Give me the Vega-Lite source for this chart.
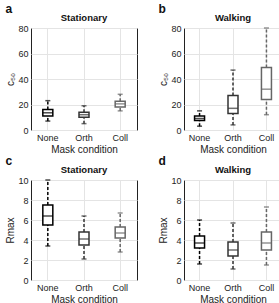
{
  "$schema": "https://vega.github.io/schema/vega-lite/v6.json",
  "padding": {"left": 5, "top": 3, "right": 2, "bottom": 2},
  "data": {"values": [
    {"panel": "a", "cond": "None", "min": 7, "q1": 11, "med": 13.5, "q3": 16, "max": 23},
    {"panel": "a", "cond": "Orth", "min": 5, "q1": 10, "med": 12, "q3": 14, "max": 19},
    {"panel": "a", "cond": "Coll", "min": 15, "q1": 18, "med": 20.5, "q3": 22.5, "max": 28},
    {"panel": "b", "cond": "None", "min": 3, "q1": 7.5, "med": 9, "q3": 11, "max": 15},
    {"panel": "b", "cond": "Orth", "min": 4, "q1": 13, "med": 17, "q3": 27, "max": 47},
    {"panel": "b", "cond": "Coll", "min": 12, "q1": 24, "med": 32, "q3": 49, "max": 80},
    {"panel": "c", "cond": "None", "min": 3.4, "q1": 5.5, "med": 6.4, "q3": 7.5, "max": 10},
    {"panel": "c", "cond": "Orth", "min": 2.1, "q1": 3.5, "med": 4.1, "q3": 4.8, "max": 6.4},
    {"panel": "c", "cond": "Coll", "min": 2.8, "q1": 4.2, "med": 4.7, "q3": 5.3, "max": 6.7},
    {"panel": "d", "cond": "None", "min": 1.6, "q1": 3.2, "med": 3.7, "q3": 4.4, "max": 6},
    {"panel": "d", "cond": "Orth", "min": 1.1, "q1": 2.4, "med": 3.0, "q3": 3.8, "max": 5.7},
    {"panel": "d", "cond": "Coll", "min": 1.5, "q1": 3.0, "med": 3.7, "q3": 4.8, "max": 7.3}
  ]},
  "config": {
    "font": "Liberation Sans",
    "view": {"stroke": "#222", "strokeWidth": 1},
    "concat": {"spacing": 0},
    "axis": {"labelFontSize": 9, "labelColor": "#222", "titleFontSize": 10, "titleFontWeight": "normal", "titleColor": "#222", "domain": false, "ticks": false, "labelPadding": 3, "titlePadding": 2, "gridColor": "#e4e4e4", "grid": true, "labelOverlap": false},
    "axisY": {"labelOverlap": false},
    "axisQuantitative": {"labelOverlap": false},
    "title": {"fontSize": 9.5, "fontWeight": "bold", "color": "#111", "offset": 2}
  },
  "vconcat": [
    {"spacing": 20, "hconcat": [
      {"title": {"text": "a", "anchor": "start", "frame": "bounds", "fontSize": 12, "offset": -4},
       "vconcat": [{
        "title": "Stationary", "width": 106, "height": 102,
        "transform": [{"filter": "datum.panel === 'a'"}],
        "encoding": {
          "x": {"field": "cond", "type": "nominal", "sort": ["None", "Orth", "Coll"], "scale": {"type": "band", "paddingInner": 0.67, "paddingOuter": 0.3}, "axis": {"title": "Mask condition", "bandPosition": 0.5, "labelAngle": 0}},
          "color": {"field": "cond", "type": "nominal", "scale": {"domain": ["None", "Orth", "Coll"], "range": ["#000000", "#333333", "#666666"]}, "legend": null}
        },
        "layer": [
          {"mark": {"type": "rule", "strokeDash": [3, 2], "strokeWidth": 1.5}, "encoding": {"y": {"field": "min", "type": "quantitative", "scale": {"domain": [0, 80]}, "axis": {"title": "c₅₀", "values": [0, 20, 40, 60, 80], "labelOverlap": false}}, "y2": {"field": "q1"}}},
          {"mark": {"type": "rule", "strokeDash": [3, 2], "strokeWidth": 1.5}, "encoding": {"y": {"field": "q3", "type": "quantitative", "axis": {"title": "c₅₀", "values": [0, 20, 40, 60, 80], "labelOverlap": false}}, "y2": {"field": "max"}}},
          {"mark": {"type": "tick", "size": 5, "thickness": 1.5}, "encoding": {"y": {"field": "min", "type": "quantitative", "axis": {"title": "c₅₀", "values": [0, 20, 40, 60, 80], "labelOverlap": false}}}},
          {"mark": {"type": "tick", "size": 5, "thickness": 1.5}, "encoding": {"y": {"field": "max", "type": "quantitative", "axis": {"title": "c₅₀", "values": [0, 20, 40, 60, 80], "labelOverlap": false}}}},
          {"mark": {"type": "bar", "width": 10, "fill": "white", "strokeWidth": 1.5}, "encoding": {"y": {"field": "q1", "type": "quantitative", "axis": {"title": "c₅₀", "values": [0, 20, 40, 60, 80], "labelOverlap": false}}, "y2": {"field": "q3"}, "stroke": {"field": "cond", "type": "nominal", "scale": {"domain": ["None", "Orth", "Coll"], "range": ["#000000", "#333333", "#666666"]}, "legend": null}}},
          {"mark": {"type": "tick", "size": 10, "thickness": 1.5}, "encoding": {"y": {"field": "med", "type": "quantitative", "axis": {"title": "c₅₀", "values": [0, 20, 40, 60, 80], "labelOverlap": false}}}}
        ]
      }]},
      {"title": {"text": "b", "anchor": "start", "frame": "bounds", "fontSize": 12, "offset": -4},
       "vconcat": [{
        "title": "Walking", "width": 98, "height": 102,
        "transform": [{"filter": "datum.panel === 'b'"}],
        "encoding": {
          "x": {"field": "cond", "type": "nominal", "sort": ["None", "Orth", "Coll"], "scale": {"type": "band", "paddingInner": 0.67, "paddingOuter": 0.3}, "axis": {"title": "Mask condition", "bandPosition": 0.5, "labelAngle": 0}},
          "color": {"field": "cond", "type": "nominal", "scale": {"domain": ["None", "Orth", "Coll"], "range": ["#000000", "#333333", "#666666"]}, "legend": null}
        },
        "layer": [
          {"mark": {"type": "rule", "strokeDash": [3, 2], "strokeWidth": 1.5}, "encoding": {"y": {"field": "min", "type": "quantitative", "scale": {"domain": [0, 80]}, "axis": {"title": "c₅₀", "values": [0, 20, 40, 60, 80], "labelOverlap": false}}, "y2": {"field": "q1"}}},
          {"mark": {"type": "rule", "strokeDash": [3, 2], "strokeWidth": 1.5}, "encoding": {"y": {"field": "q3", "type": "quantitative", "axis": {"title": "c₅₀", "values": [0, 20, 40, 60, 80], "labelOverlap": false}}, "y2": {"field": "max"}}},
          {"mark": {"type": "tick", "size": 5, "thickness": 1.5}, "encoding": {"y": {"field": "min", "type": "quantitative", "axis": {"title": "c₅₀", "values": [0, 20, 40, 60, 80], "labelOverlap": false}}}},
          {"mark": {"type": "tick", "size": 5, "thickness": 1.5}, "encoding": {"y": {"field": "max", "type": "quantitative", "axis": {"title": "c₅₀", "values": [0, 20, 40, 60, 80], "labelOverlap": false}}}},
          {"mark": {"type": "bar", "width": 10, "fill": "white", "strokeWidth": 1.5}, "encoding": {"y": {"field": "q1", "type": "quantitative", "axis": {"title": "c₅₀", "values": [0, 20, 40, 60, 80], "labelOverlap": false}}, "y2": {"field": "q3"}, "stroke": {"field": "cond", "type": "nominal", "scale": {"domain": ["None", "Orth", "Coll"], "range": ["#000000", "#333333", "#666666"]}, "legend": null}}},
          {"mark": {"type": "tick", "size": 10, "thickness": 1.5}, "encoding": {"y": {"field": "med", "type": "quantitative", "axis": {"title": "c₅₀", "values": [0, 20, 40, 60, 80], "labelOverlap": false}}}}
        ]
      }]}
    ]},
    {"spacing": 20, "hconcat": [
      {"title": {"text": "c", "anchor": "start", "frame": "bounds", "fontSize": 12, "offset": -4},
       "vconcat": [{
        "title": "Stationary", "width": 106, "height": 100,
        "transform": [{"filter": "datum.panel === 'c'"}],
        "encoding": {
          "x": {"field": "cond", "type": "nominal", "sort": ["None", "Orth", "Coll"], "scale": {"type": "band", "paddingInner": 0.67, "paddingOuter": 0.3}, "axis": {"title": "Mask condition", "bandPosition": 0.5, "labelAngle": 0}},
          "color": {"field": "cond", "type": "nominal", "scale": {"domain": ["None", "Orth", "Coll"], "range": ["#000000", "#333333", "#666666"]}, "legend": null}
        },
        "layer": [
          {"mark": {"type": "rule", "strokeDash": [3, 2], "strokeWidth": 1.5}, "encoding": {"y": {"field": "min", "type": "quantitative", "scale": {"domain": [0, 10]}, "axis": {"title": "Rmax", "values": [0, 2, 4, 6, 8, 10], "labelOverlap": false}}, "y2": {"field": "q1"}}},
          {"mark": {"type": "rule", "strokeDash": [3, 2], "strokeWidth": 1.5}, "encoding": {"y": {"field": "q3", "type": "quantitative", "axis": {"title": "Rmax", "values": [0, 2, 4, 6, 8, 10], "labelOverlap": false}}, "y2": {"field": "max"}}},
          {"mark": {"type": "tick", "size": 5, "thickness": 1.5}, "encoding": {"y": {"field": "min", "type": "quantitative", "axis": {"title": "Rmax", "values": [0, 2, 4, 6, 8, 10], "labelOverlap": false}}}},
          {"mark": {"type": "tick", "size": 5, "thickness": 1.5}, "encoding": {"y": {"field": "max", "type": "quantitative", "axis": {"title": "Rmax", "values": [0, 2, 4, 6, 8, 10], "labelOverlap": false}}}},
          {"mark": {"type": "bar", "width": 10, "fill": "white", "strokeWidth": 1.5}, "encoding": {"y": {"field": "q1", "type": "quantitative", "axis": {"title": "Rmax", "values": [0, 2, 4, 6, 8, 10], "labelOverlap": false}}, "y2": {"field": "q3"}, "stroke": {"field": "cond", "type": "nominal", "scale": {"domain": ["None", "Orth", "Coll"], "range": ["#000000", "#333333", "#666666"]}, "legend": null}}},
          {"mark": {"type": "tick", "size": 10, "thickness": 1.5}, "encoding": {"y": {"field": "med", "type": "quantitative", "axis": {"title": "Rmax", "values": [0, 2, 4, 6, 8, 10], "labelOverlap": false}}}}
        ]
      }]},
      {"title": {"text": "d", "anchor": "start", "frame": "bounds", "fontSize": 12, "offset": -4},
       "vconcat": [{
        "title": "Walking", "width": 98, "height": 100,
        "transform": [{"filter": "datum.panel === 'd'"}],
        "encoding": {
          "x": {"field": "cond", "type": "nominal", "sort": ["None", "Orth", "Coll"], "scale": {"type": "band", "paddingInner": 0.67, "paddingOuter": 0.3}, "axis": {"title": "Mask condition", "bandPosition": 0.5, "labelAngle": 0}},
          "color": {"field": "cond", "type": "nominal", "scale": {"domain": ["None", "Orth", "Coll"], "range": ["#000000", "#333333", "#666666"]}, "legend": null}
        },
        "layer": [
          {"mark": {"type": "rule", "strokeDash": [3, 2], "strokeWidth": 1.5}, "encoding": {"y": {"field": "min", "type": "quantitative", "scale": {"domain": [0, 10]}, "axis": {"title": "Rmax", "values": [0, 2, 4, 6, 8, 10], "labelOverlap": false}}, "y2": {"field": "q1"}}},
          {"mark": {"type": "rule", "strokeDash": [3, 2], "strokeWidth": 1.5}, "encoding": {"y": {"field": "q3", "type": "quantitative", "axis": {"title": "Rmax", "values": [0, 2, 4, 6, 8, 10], "labelOverlap": false}}, "y2": {"field": "max"}}},
          {"mark": {"type": "tick", "size": 5, "thickness": 1.5}, "encoding": {"y": {"field": "min", "type": "quantitative", "axis": {"title": "Rmax", "values": [0, 2, 4, 6, 8, 10], "labelOverlap": false}}}},
          {"mark": {"type": "tick", "size": 5, "thickness": 1.5}, "encoding": {"y": {"field": "max", "type": "quantitative", "axis": {"title": "Rmax", "values": [0, 2, 4, 6, 8, 10], "labelOverlap": false}}}},
          {"mark": {"type": "bar", "width": 10, "fill": "white", "strokeWidth": 1.5}, "encoding": {"y": {"field": "q1", "type": "quantitative", "axis": {"title": "Rmax", "values": [0, 2, 4, 6, 8, 10], "labelOverlap": false}}, "y2": {"field": "q3"}, "stroke": {"field": "cond", "type": "nominal", "scale": {"domain": ["None", "Orth", "Coll"], "range": ["#000000", "#333333", "#666666"]}, "legend": null}}},
          {"mark": {"type": "tick", "size": 10, "thickness": 1.5}, "encoding": {"y": {"field": "med", "type": "quantitative", "axis": {"title": "Rmax", "values": [0, 2, 4, 6, 8, 10], "labelOverlap": false}}}}
        ]
      }]}
    ]}
  ]
}
